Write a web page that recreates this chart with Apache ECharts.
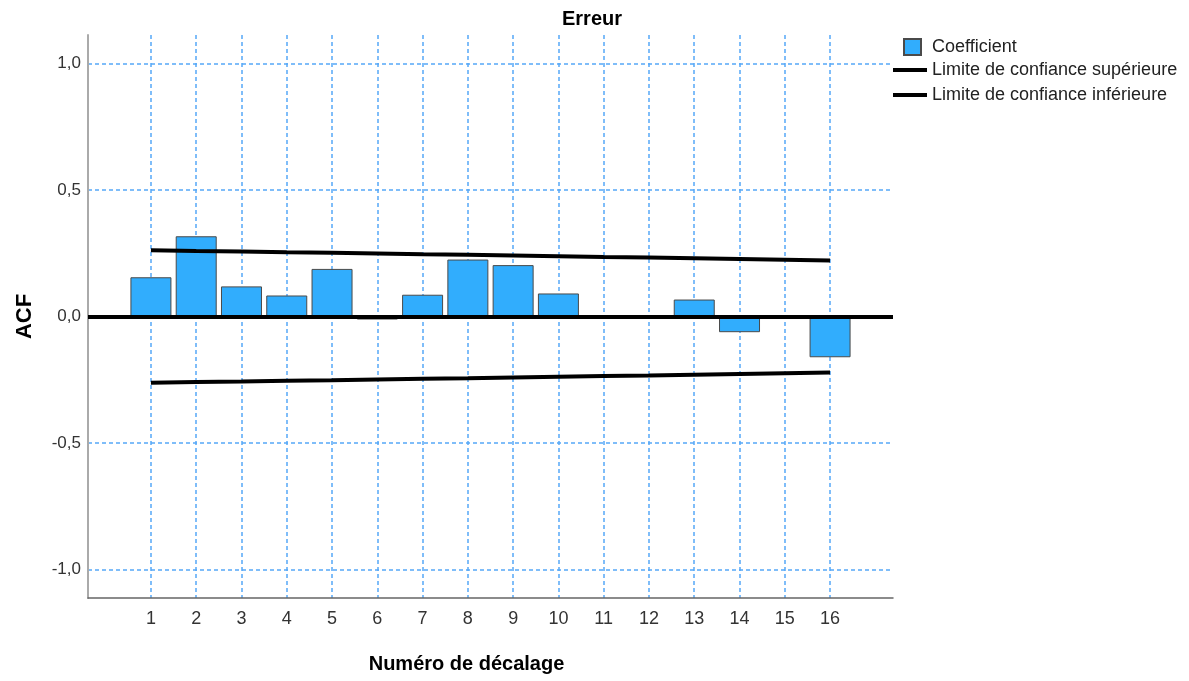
<!DOCTYPE html>
<html>
<head>
<meta charset="utf-8">
<script src="https://cdn.jsdelivr.net/npm/echarts@6/dist/echarts.min.js"></script>
<style>
html,body{margin:0;padding:0;background:#fff;}
#chart{width:1189px;height:681px;}
</style>
</head>
<body>
<div id="chart"></div>
<script>
var lags = [1, 2, 3, 4, 5, 6, 7, 8, 9, 10, 11, 12, 13, 14, 15, 16];
var coefficients = [0.155, 0.317, 0.119, 0.083, 0.188, -0.012, 0.086, 0.225, 0.203, 0.091, 0.001, 0.004, 0.067, -0.062, 0.005, -0.161];
var upperLimit = [0.262, 0.259, 0.257, 0.254, 0.252, 0.249, 0.246, 0.244, 0.241, 0.238, 0.235, 0.233, 0.230, 0.227, 0.224, 0.221];
var lowerLimit = [-0.262, -0.259, -0.257, -0.254, -0.252, -0.249, -0.246, -0.244, -0.241, -0.238, -0.235, -0.233, -0.230, -0.227, -0.224, -0.221];
var yTicks = [-1, -0.5, 0, 0.5, 1];

function pairs(xs, ys) { return xs.map(function (x, i) { return [x, ys[i]]; }); }

var FONT = '"Liberation Sans", Arial, sans-serif';
var gridLine = { show: true, lineStyle: { color: '#55a8f7', width: 1.5, type: [4, 3] } };

var chart = echarts.init(document.getElementById('chart'));
chart.setOption({
  backgroundColor: '#fff',
  animation: false,
  title: {
    text: 'Erreur',
    left: 587, top: 4, textAlign: 'center',
    textStyle: { fontFamily: FONT, fontSize: 20, fontWeight: 'bold', color: '#000' }
  },
  legend: [{
    data: ['Coefficient'],
    left: 903, top: 38, padding: 0,
    orient: 'vertical',
    icon: 'rect',
    itemWidth: 17, itemHeight: 16,
    textStyle: { fontFamily: FONT, fontSize: 18, color: '#222', lineHeight: 18, padding: [0, 0, 0, 6] }
  }, {
    data: ['Limite de confiance supérieure', 'Limite de confiance inférieure'],
    left: 893, top: 61, padding: 0,
    orient: 'vertical',
    icon: 'rect',
    itemWidth: 34, itemHeight: 4, itemGap: 7,
    itemStyle: { color: '#000', borderWidth: 0 },
    textStyle: { fontFamily: FONT, fontSize: 18, color: '#222', lineHeight: 18 }
  }],
  grid: { left: 88, right: 296, top: 35, bottom: 83, containLabel: false },
  xAxis: {
    type: 'value',
    min: -0.39, max: 17.39,
    name: 'Numéro de décalage',
    nameLocation: 'middle',
    nameGap: 56,
    nameTextStyle: { fontFamily: FONT, fontSize: 20, fontWeight: 'bold', color: '#000', padding: [0, 48, 0, 0] },
    axisLine: { show: true, onZero: false, lineStyle: { color: '#666', width: 1.5 } },
    axisTick: { show: true, length: 0, customValues: lags, lineStyle: { color: 'rgba(0,0,0,0)' } },
    axisLabel: { customValues: lags, margin: 12, fontFamily: FONT, fontSize: 18, color: '#333' },
    splitLine: gridLine
  },
  yAxis: {
    type: 'value',
    min: -1.112, max: 1.112,
    name: 'ACF',
    nameLocation: 'middle',
    nameGap: 52,
    nameTextStyle: { fontFamily: FONT, fontSize: 22, fontWeight: 'bold', color: '#000' },
    axisLine: { show: true, onZero: false, lineStyle: { color: '#aaa', width: 2 } },
    axisTick: { show: true, length: 0, customValues: yTicks, lineStyle: { color: 'rgba(0,0,0,0)' } },
    axisLabel: {
      customValues: yTicks, margin: 7, fontFamily: FONT, fontSize: 17, color: '#333',
      formatter: function (v) { return v.toFixed(1).replace('.', ','); }
    },
    splitLine: gridLine
  },
  series: [{
    name: 'Coefficient',
    type: 'bar',
    data: pairs(lags, coefficients),
    barWidth: 41,
    itemStyle: { color: '#31adfd', borderColor: '#4a4a4a', borderWidth: 1 },
    markLine: {
      silent: true, symbol: 'none', label: { show: false },
      lineStyle: { color: '#000', width: 4, type: 'solid' },
      data: [{ yAxis: 0 }]
    },
    z: 2
  }, {
    name: 'Limite de confiance supérieure',
    type: 'line',
    data: pairs(lags, upperLimit),
    symbol: 'none',
    lineStyle: { color: '#000', width: 4 },
    itemStyle: { color: '#000' },
    z: 3
  }, {
    name: 'Limite de confiance inférieure',
    type: 'line',
    data: pairs(lags, lowerLimit),
    symbol: 'none',
    lineStyle: { color: '#000', width: 4 },
    itemStyle: { color: '#000' },
    z: 3
  }]
});
</script>
</body>
</html>
